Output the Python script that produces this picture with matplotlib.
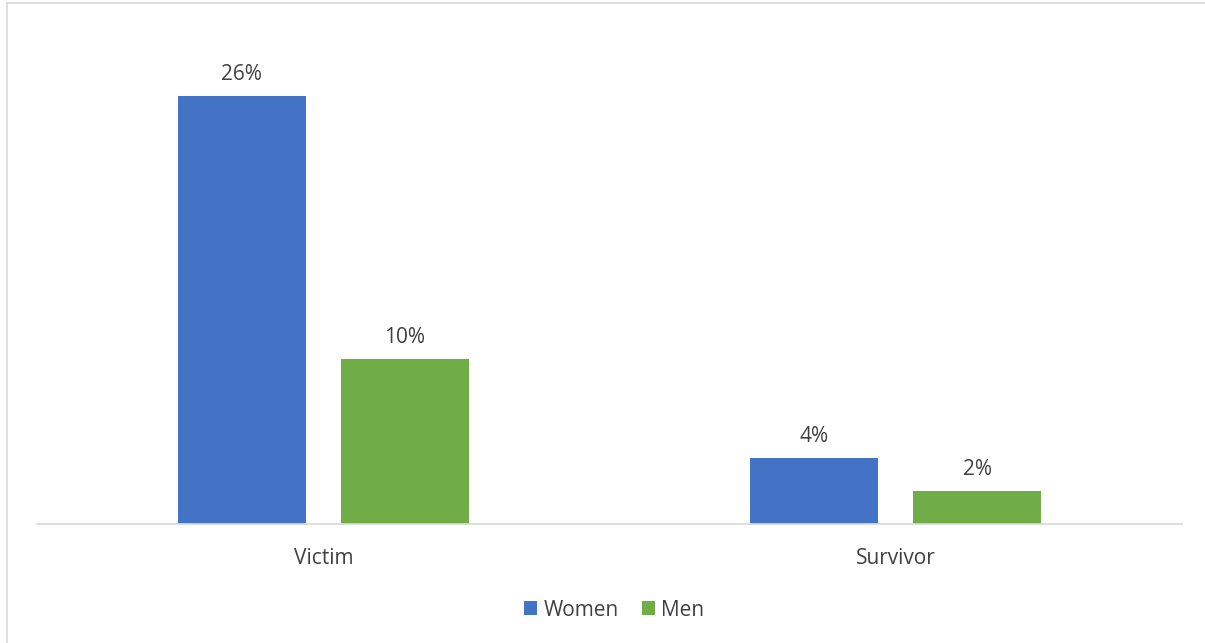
import matplotlib.pyplot as plt
import numpy as np

categories = ["Victim", "Survivor"]
women = [26, 4]
men = [10, 2]
series_names = ["Women", "Men"]
colors = ["#4472C4", "#70AD47"]

plt.rcParams['font.family'] = ['Open Sans', 'DejaVu Sans']
text_color = '#404040'

fig = plt.figure(figsize=(12.05, 6.43), dpi=100)
ax = fig.add_axes([37 / 1205, 1 - 524 / 643, (1182 - 37) / 1205, (524 - 30) / 643])

x = np.arange(len(categories))
width = 0.2236
offset = 0.1424

bars_w = ax.bar(x - offset, women, width, color=colors[0], label=series_names[0])
bars_m = ax.bar(x + offset, men, width, color=colors[1], label=series_names[1])

for bars, vals in [(bars_w, women), (bars_m, men)]:
    for b, v in zip(bars, vals):
        ax.annotate(f'{v}%', (b.get_x() + b.get_width() / 2, v),
                    xytext=(0, 8), textcoords='offset points',
                    ha='center', va='bottom', fontsize=15, color=text_color)

ax.set_xlim(-0.5, 1.5)
ax.set_ylim(0, 30)
ax.set_xticks(x)
ax.set_xticklabels(categories, fontsize=15, color=text_color)
ax.tick_params(axis='x', length=0, pad=17)
ax.set_yticks([])
for s in ['top', 'right', 'left']:
    ax.spines[s].set_visible(False)
ax.spines['bottom'].set_color('#D9D9D9')
ax.spines['bottom'].set_linewidth(1.2)

leg = fig.legend(loc='center', bbox_to_anchor=(614 / 1205, 1 - 610 / 643), ncol=2,
                 frameon=False, fontsize=15, handlelength=0.65, handleheight=0.65,
                 handletextpad=0.3, columnspacing=1.1)
for t in leg.get_texts():
    t.set_color(text_color)

# outer chart border (left and top visible)
fig.add_artist(plt.Line2D([7 / 1205, 7 / 1205], [0, 1 - 3 / 643], color='#D9D9D9', lw=1.2,
                          transform=fig.transFigure))
fig.add_artist(plt.Line2D([7 / 1205, 1], [1 - 3 / 643, 1 - 3 / 643], color='#D9D9D9', lw=1.2,
                          transform=fig.transFigure))

fig.savefig('out.png', dpi=100)
